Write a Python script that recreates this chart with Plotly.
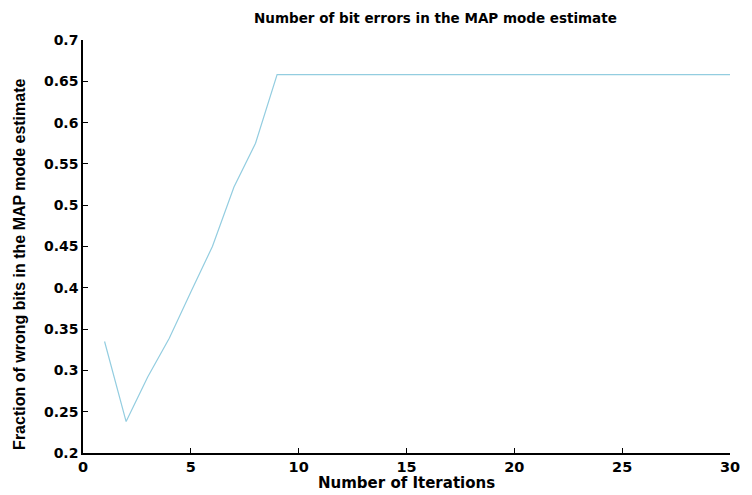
import plotly.graph_objects as go

iterations = list(range(1, 31))
fraction_wrong = [0.335, 0.238, 0.292, 0.339, 0.395, 0.450, 0.522, 0.575, 0.658] + [0.658] * 21

x_ticks = [0, 5, 10, 15, 20, 25, 30]
y_ticks = [0.2, 0.25, 0.3, 0.35, 0.4, 0.45, 0.5, 0.55, 0.6, 0.65, 0.7]
y_tick_text = ["0.2", "0.25", "0.3", "0.35", "0.4", "0.45", "0.5", "0.55", "0.6", "0.65", "0.7"]

title_text = "Number of bit errors in the MAP mode estimate"
x_label = "Number of Iterations"
y_label = "Fraction of wrong bits in the MAP mode estimate"

fig = go.Figure()
fig.add_trace(go.Scatter(x=iterations, y=fraction_wrong, mode="lines",
                         line=dict(color="#93cde0", width=1.2), showlegend=False))

wide = "DejaVu Sans, sans-serif"
narrow = "Liberation Sans, Arial, sans-serif"
W, H = 752, 495
fig.update_layout(
    width=W, height=H,
    margin=dict(l=83, r=13, t=40, b=42),
    paper_bgcolor="white", plot_bgcolor="white",
    font=dict(family=wide, color="black", size=14, weight="bold"),
    xaxis=dict(range=[0, 30], tickvals=x_ticks, ticks="inside", ticklen=5, tickcolor="black",
               showline=True, linecolor="black", linewidth=1.5, showgrid=False, zeroline=False,
               tickfont=dict(size=14.5, family=wide, weight="bold")),
    yaxis=dict(range=[0.2, 0.7], tickvals=y_ticks, ticktext=y_tick_text, ticks="inside", ticklen=5,
               tickcolor="black", showline=True, linecolor="black", linewidth=1.5, showgrid=False,
               zeroline=False, tickfont=dict(size=14, family=wide, weight="bold")),
)
fig.add_annotation(text=title_text, xref="paper", yref="paper", x=(440 - 83) / (W - 96),
                   y=(H - 18 - 42) / (H - 82), xanchor="center", yanchor="middle", showarrow=False,
                   font=dict(size=13.5, family=wide, weight="bold"))
fig.add_annotation(text=x_label, xref="paper", yref="paper", x=0.5,
                   y=(H - 483 - 42) / (H - 82), xanchor="center", yanchor="middle", showarrow=False,
                   font=dict(size=15, family=wide, weight="bold"))
fig.add_annotation(text=y_label, xref="paper", yref="paper", x=(18 - 83) / (W - 96),
                   y=(H - 264 - 42) / (H - 82), xanchor="center", yanchor="middle", showarrow=False,
                   textangle=-90, font=dict(size=16, family=narrow, weight="bold"))

fig.write_html("out.html")
